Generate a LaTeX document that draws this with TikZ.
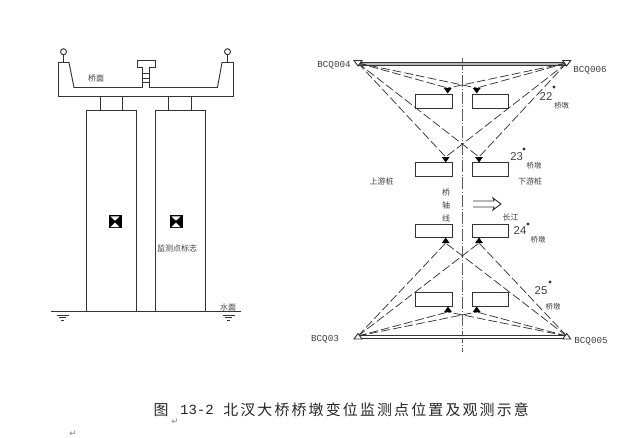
\documentclass[tikz,border=0pt]{standalone}
\usepackage{fontspec}
\setmainfont{Liberation Sans}
\setmonofont{Liberation Mono}
\newfontfamily\cjk{Noto Sans CJK SC}
\newfontfamily\cjkcap[LetterSpace=14.5]{Noto Sans CJK SC}
\newfontfamily\arrowfont{DejaVu Sans}
\definecolor{ink}{gray}{0.2}
\definecolor{txt}{gray}{0.25}
\tikzset{
  struct/.style={draw=ink,line width=0.7pt,line join=miter},
  pierbox/.style={draw=ink,line width=0.8pt,minimum width=27.3pt,minimum height=10.2pt,inner sep=0pt,fill=white},
  sight/.style={draw=ink,line width=0.55pt,dash pattern=on 6.5pt off 2.4pt},
  axisline/.style={draw=ink!80,line width=0.75pt,dash pattern=on 9pt off 1.6pt on 0.6pt off 1.6pt},
  cjklabel/.style={text=txt,font=\cjk\fontsize{6}{6}\selectfont,inner sep=0pt},
  stationlabel/.style={text=txt,font=\ttfamily\fontsize{6.9}{7}\selectfont,inner sep=0pt},
  numlabel/.style={text=txt,font=\fontsize{8.5}{9}\selectfont,inner sep=0pt},
  dotlabel/.style={circle,fill=ink,inner sep=0pt,minimum size=2.4pt},
  returnmark/.style={text=gray,font=\arrowfont\fontsize{6.5}{6.5}\selectfont,inner sep=0pt}
}
\begin{document}
\begin{tikzpicture}[x=0.75pt,y=-0.75pt]
\useasboundingbox (0,0) rectangle (621,437);
\fill[white] (0,0) rectangle (621,437);

% ---- cross-section ----
\draw[struct] (142.5,87.5) -- (74,87.5) -- (69,62.5) -- (58.5,62.5) -- (58.5,96.5) -- (233.5,96.5) -- (233.5,62.5) -- (222,62.5) -- (217.5,87.5) -- (149.5,87.5);
\draw[struct] (142.5,87.5) -- (142.5,67.5) -- (137.5,67.5) -- (137.5,60.5) -- (155.5,60.5) -- (155.5,67.5) -- (149.5,67.5) -- (149.5,87.5);
\foreach \yy in {73.5,78.5,82.5} \draw[struct] (142.5,\yy) -- (149.5,\yy);
\draw[struct] (63.5,62.5) -- (63.5,54.7);
\draw[struct] (63.5,51.7) circle[radius=3];
\draw[struct] (227.5,62.5) -- (227.5,54.7);
\draw[struct] (227.5,51.7) circle[radius=3];
\foreach \xx in {100.5,122.5,168.5,191.5} \draw[struct] (\xx,96.5) -- (\xx,110.5);
\draw[struct] (86.5,311.5) -- (86.5,110.5) -- (136.5,110.5) -- (136.5,311.5);
\draw[struct] (155.5,311.5) -- (155.5,110.5) -- (205.5,110.5) -- (205.5,311.5);
\draw[struct] (51,311.5) -- (240.7,311.5);
\foreach \xx in {62.5,228.5} {
  \draw[struct,line width=0.6pt] (\xx-6,315.5) -- (\xx+6,315.5);
  \draw[struct,line width=0.6pt] (\xx-3.5,317.5) -- (\xx+3.5,317.5);
  \draw[struct,line width=0.6pt] (\xx-1.5,320) -- (\xx+1.5,320);
}
\foreach \xx in {115,176} {
  \fill[black] (\xx-6.5,215.2) rectangle (\xx+6.5,228.2);
  \fill[white] (\xx-4.5,216.4) -- (\xx+4.5,216.4) -- (\xx,220.7) -- cycle;
  \fill[white] (\xx-4.5,227) -- (\xx+4.5,227) -- (\xx,222.7) -- cycle;
}
\node[cjklabel] (deck) at (96,78) {桥面};
\node[cjklabel] (mark) at (177,248) {监测点标志};
\node[cjklabel] (water) at (228,307.3) {水面};

% ---- plan ----
\coordinate (axistop) at (462.3,58);
\coordinate (axisbot) at (462.3,352);
\draw[axisline] (axistop) -- (axisbot);

\coordinate (s04) at (358,63);
\coordinate (s06) at (566.7,63);
\coordinate (s03) at (358,336);
\coordinate (s05) at (566.7,336);

\draw[struct,line width=0.7pt,fill=gray!55] (s04) ++(0,-1) rectangle ([yshift=-1.8pt]s06);
\draw[struct,line width=0.7pt,fill=white] (s03) ++(0,-0.5) rectangle ([yshift=-1.8pt]s05);

\node[pierbox] (b1l) at (434,101.3) {};
\node[pierbox] (b1r) at (490.5,101.3) {};
\node[pierbox] (b2l) at (434,169.4) {};
\node[pierbox] (b2r) at (490.5,169.4) {};
\node[pierbox] (b3l) at (434,231) {};
\node[pierbox] (b3r) at (490.5,231) {};
\node[pierbox] (b4l) at (434,299.7) {};
\node[pierbox] (b4r) at (490.5,299.7) {};

\coordinate (t1l) at (447.7,88);
\coordinate (t1r) at (476.7,88);
\coordinate (t2l) at (445.7,157);
\coordinate (t2r) at (479,157);
\coordinate (t3l) at (445.7,243);
\coordinate (t3r) at (479,243);
\coordinate (t4l) at (448,312);
\coordinate (t4r) at (476.7,312);

\foreach \st/\en in {s04/t1l,s04/t1r,s04/t2l,s04/t2r,s06/t1l,s06/t1r,s06/t2l,s06/t2r,
                     s03/t3l,s03/t3r,s03/t4l,s03/t4r,s05/t3l,s05/t3r,s05/t4l,s05/t4r}
  \draw[sight] (\st) -- (\en);

\foreach \tt in {t1l,t1r,t2l,t2r} \fill[black,shift={(\tt)}] (-3.9,0) -- (3.9,0) -- (0,5.5) -- cycle;
\foreach \tt in {t3l,t3r,t4l,t4r} \fill[black,shift={(\tt)}] (-3.9,0) -- (3.9,0) -- (0,-5.5) -- cycle;

\foreach \st in {s04,s06} \draw[struct,fill=white,shift={(\st)}] (-4,-2.5) -- (4,-2.5) -- (0,3) -- cycle;
\foreach \st in {s03,s05} \draw[struct,fill=white,shift={(\st)}] (-4,3) -- (4,3) -- (0,-2.5) -- cycle;

% flow arrow
\draw[struct,line join=miter] (473,201) -- (494,201) -- (493,198) -- (501,204) -- (493,210) -- (494,207) -- (473,207);

\node[stationlabel] (l04) at (334,65.5) {BCQ004};
\node[stationlabel] (l06) at (590,70.7) {BCQ006};
\node[stationlabel] (l03) at (325,339.5) {BCQ03};
\node[stationlabel] (l05) at (591,341.5) {BCQ005};

\node[numlabel] (n22) at (546,97) {22};
\node[dotlabel] (d22) at (554,87) {};
\node[cjklabel,font=\cjk\fontsize{5.5}{6}\selectfont] (p22) at (561.7,105.7) {桥墩};
\node[numlabel] (n23) at (516.7,157) {23};
\node[dotlabel] (d23) at (524,149) {};
\node[cjklabel,font=\cjk\fontsize{5.5}{6}\selectfont] (p23) at (534,166) {桥墩};
\node[numlabel] (n24) at (520,231) {24};
\node[dotlabel] (d24) at (528,224) {};
\node[cjklabel,font=\cjk\fontsize{5.5}{6}\selectfont] (p24) at (538,240) {桥墩};
\node[numlabel] (n25) at (541,291) {25};
\node[dotlabel] (d25) at (550,282) {};
\node[cjklabel,font=\cjk\fontsize{5.5}{6}\selectfont] (p25) at (553,306.7) {桥墩};

\node[cjklabel] (up) at (381.7,181) {上游桩};
\node[cjklabel] (down) at (530,181) {下游桩};
\node[cjklabel] (ax1) at (446,192.7) {桥};
\node[cjklabel] (ax2) at (446,205.7) {轴};
\node[cjklabel] (ax3) at (446,218) {线};
\node[cjklabel] (river) at (510.7,217) {长江};

% ---- caption ----
\node[text=black!85,font=\cjkcap\fontsize{11.2}{12}\selectfont,inner sep=0pt] (c1) at (161,410) {图};
\node[text=black!85,font=\ttfamily\fontsize{10.5}{12}\selectfont,inner sep=0pt] (c2) at (197,410) {13-2};
\node[text=black!85,font=\cjkcap\fontsize{11.2}{12}\selectfont,inner sep=0pt,anchor=west] (c3) at (223,410) {北汊大桥桥墩变位监测点位置及观测示意};
\node[returnmark] (r1) at (175,421.5) {↵};
\node[returnmark] (r2) at (73,434) {↵};
\end{tikzpicture}
\end{document}
